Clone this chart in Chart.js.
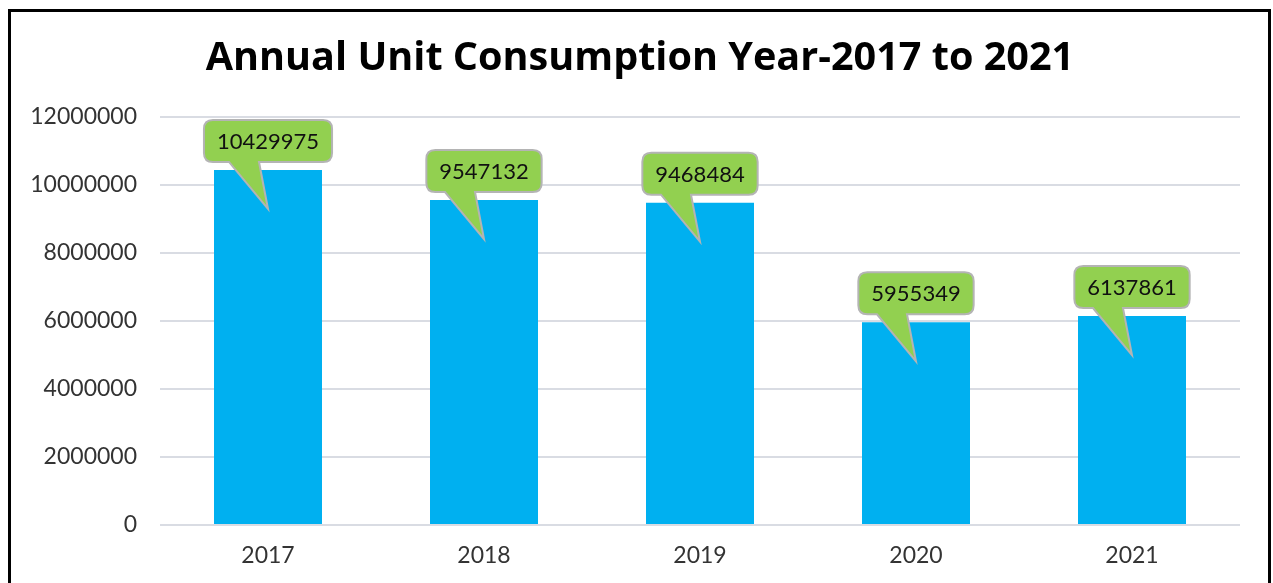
<!DOCTYPE html>
<html>
<head>
<meta charset="utf-8">
<script src="https://cdn.jsdelivr.net/npm/chart.js"></script>
<style>
  html, body { margin: 0; padding: 0; background: #fff; }
  #wrap { width: 1273px; height: 583px; position: relative; }
</style>
</head>
<body>
<div id="wrap"><canvas id="chart"></canvas></div>
<script>
const years = ["2017", "2018", "2019", "2020", "2021"];
const units = [10429975, 9547132, 9468484, 5955349, 6137861];
const yTicks = [0, 2000000, 4000000, 6000000, 8000000, 10000000, 12000000];

const FONT = "Lato, 'Open Sans', sans-serif";

// outer black frame of the picture
const framePlugin = {
    id: "frame",
    afterDraw(chart) {
        const ctx = chart.ctx;
        ctx.save();
        ctx.strokeStyle = "#000";
        ctx.lineWidth = 3;
        ctx.beginPath();
        ctx.moveTo(9.5, 590);
        ctx.lineTo(9.5, 10.5);
        ctx.lineTo(1269.5, 10.5);
        ctx.lineTo(1269.5, 590);
        ctx.stroke();
        ctx.restore();
    }
};

// green speech-bubble data labels
const calloutPlugin = {
    id: "callouts",
    afterDatasetsDraw(chart) {
        const ctx = chart.ctx;
        const meta = chart.getDatasetMeta(0);
        ctx.save();
        ctx.font = "22px " + FONT;
        meta.data.forEach((bar, i) => {
            const txt = String(units[i]);
            const tw = ctx.measureText(txt).width;
            const w = tw + 26, h = 42;
            const cx = bar.x;
            const bottom = bar.y - 8;
            const left = cx - w / 2, top = bottom - h, r = 9;
            const tipX = cx, tipY = bar.y + 39;

            ctx.beginPath();
            ctx.moveTo(left + r, top);
            ctx.lineTo(left + w - r, top);
            ctx.quadraticCurveTo(left + w, top, left + w, top + r);
            ctx.lineTo(left + w, bottom - r);
            ctx.quadraticCurveTo(left + w, bottom, left + w - r, bottom);
            ctx.lineTo(cx - 9, bottom);
            ctx.lineTo(tipX, tipY);
            ctx.lineTo(cx - 39, bottom);
            ctx.lineTo(left + r, bottom);
            ctx.quadraticCurveTo(left, bottom, left, bottom - r);
            ctx.lineTo(left, top + r);
            ctx.quadraticCurveTo(left, top, left + r, top);
            ctx.closePath();
            ctx.fillStyle = "#92D050";
            ctx.fill();
            ctx.lineWidth = 2;
            ctx.strokeStyle = "#B4B4B4";
            ctx.stroke();

            ctx.fillStyle = "#111";
            ctx.textAlign = "center";
            ctx.textBaseline = "middle";
            ctx.fillText(txt, cx, top + h / 2 + 1);
        });
        ctx.restore();
    }
};

new Chart(document.getElementById("chart"), {
    type: "bar",
    data: {
        labels: years,
        datasets: [{
            data: units,
            backgroundColor: "#00B0F0",
            borderWidth: 0,
            barPercentage: 0.5,
            categoryPercentage: 1.0
        }]
    },
    options: {
        responsive: true,
        maintainAspectRatio: false,
        animation: false,
        layout: { padding: { left: 7, right: 0, top: 0, bottom: 0 } },
        plugins: {
            legend: { display: false },
            tooltip: { enabled: false },
            title: {
                display: true,
                text: "Annual Unit Consumption Year-2017 to 2021",
                color: "#000",
                font: { family: "'Open Sans', sans-serif", size: 39.6, weight: "bold" },
                padding: { top: 35, bottom: 34 }
            }
        },
        scales: {
            x: {
                grid: { display: false, drawTicks: false },
                border: { display: false },
                ticks: { color: "#333", font: { family: FONT, size: 23 }, padding: 17 },
                afterFit(scale) { scale.height = 58; }
            },
            y: {
                min: 0,
                max: 12000000,
                afterBuildTicks(scale) { scale.ticks = yTicks.map(v => ({ value: v })); },
                grid: { color: "#D9DCE3", lineWidth: 2, drawTicks: false },
                border: { display: false },
                ticks: {
                    color: "#333",
                    font: { family: FONT, size: 23 },
                    padding: 23,
                    callback: v => String(v)
                },
                afterFit(scale) { scale.width = 153; }
            },
            // empty right-hand spacer so the title stays centred on the picture
            y2: {
                position: "right",
                min: 0,
                max: 12000000,
                grid: { display: false, drawTicks: false },
                border: { display: false },
                ticks: { display: false },
                afterFit(scale) { scale.width = 33; }
            }
        }
    },
    plugins: [framePlugin, calloutPlugin]
});
</script>
</body>
</html>
